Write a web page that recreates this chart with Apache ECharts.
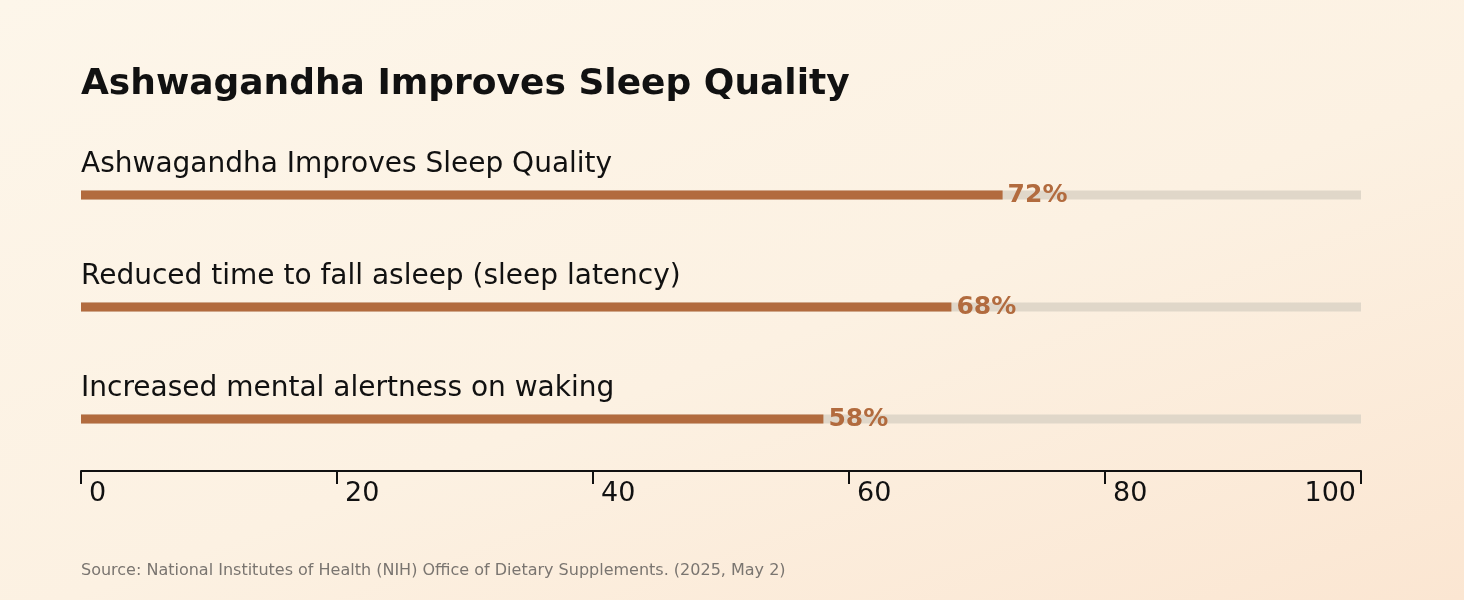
<!DOCTYPE html>
<html>
<head>
<meta charset="utf-8">
<script src="https://cdn.jsdelivr.net/npm/echarts@6/dist/echarts.min.js"></script>
<style>
  html, body { margin: 0; padding: 0; }
  body {
    width: 1464px; height: 600px; overflow: hidden;
    background: linear-gradient(160deg, #fdf6ea 0%, #fcf1e2 55%, #fbe6d2 100%);
  }
  #chart { width: 1464px; height: 600px; }
</style>
</head>
<body>
<div id="chart"></div>
<script>
// data
var categories = [
  'Ashwagandha Improves Sleep Quality',
  'Reduced time to fall asleep (sleep latency)',
  'Increased mental alertness on waking'
];
var values = [72, 68, 58];
var trackValues = [100, 100, 100];
var tickLabels = [0, 20, 40, 60, 80, 100];

var fontName = 'DejaVu Sans';
var barColor = '#b26b3e';

var chart = echarts.init(document.getElementById('chart'));
var option = {
  backgroundColor: 'transparent',
  title: [{
    text: 'Ashwagandha Improves Sleep Quality',
    left: 81,
    top: 67,
    padding: 0,
    textStyle: { fontFamily: fontName, fontSize: 36, fontWeight: 'bold', color: '#111111' }
  }, {
    text: 'Source: National Institutes of Health (NIH) Office of Dietary Supplements. (2025, May 2)',
    left: 81,
    top: 563,
    padding: 0,
    textStyle: { fontFamily: fontName, fontSize: 16, fontWeight: 'normal', color: '#7a7570' }
  }],
  grid: { left: 81, width: 1280, top: 139, height: 336 },
  xAxis: {
    type: 'value',
    min: 0,
    max: 100,
    interval: 20,
    offset: -4,
    splitLine: { show: false },
    axisLine: { show: true, lineStyle: { color: '#111111', width: 2 } },
    axisTick: { show: true, length: 13, inside: false, lineStyle: { color: '#111111', width: 2 } },
    axisLabel: {
      fontFamily: fontName, fontSize: 27, color: '#111111',
      align: 'left', margin: 9, alignMaxLabel: 'right',
      padding: [0, 5, 0, 8],
      formatter: function (v) { return tickLabels.indexOf(v) >= 0 ? String(v) : ''; }
    }
  },
  yAxis: {
    type: 'category',
    data: categories,
    inverse: true,
    show: false
  },
  series: [{
    name: 'track',
    type: 'bar',
    data: trackValues,
    barWidth: 9,
    barGap: '-100%',
    silent: true,
    itemStyle: { color: '#e0d7c9' },
    label: {
      show: true,
      position: [0, -40],
      formatter: '{b}',
      fontFamily: fontName, fontSize: 28, color: '#111111'
    },
    z: 1
  }, {
    name: 'value',
    type: 'bar',
    data: values,
    barWidth: 9,
    itemStyle: { color: barColor },
    label: {
      show: true,
      position: 'right',
      distance: 5,
      formatter: '{c}%',
      fontFamily: fontName, fontSize: 25, fontWeight: 'bold', color: barColor
    },
    z: 2
  }]
};
chart.setOption(option);
</script>
</body>
</html>
